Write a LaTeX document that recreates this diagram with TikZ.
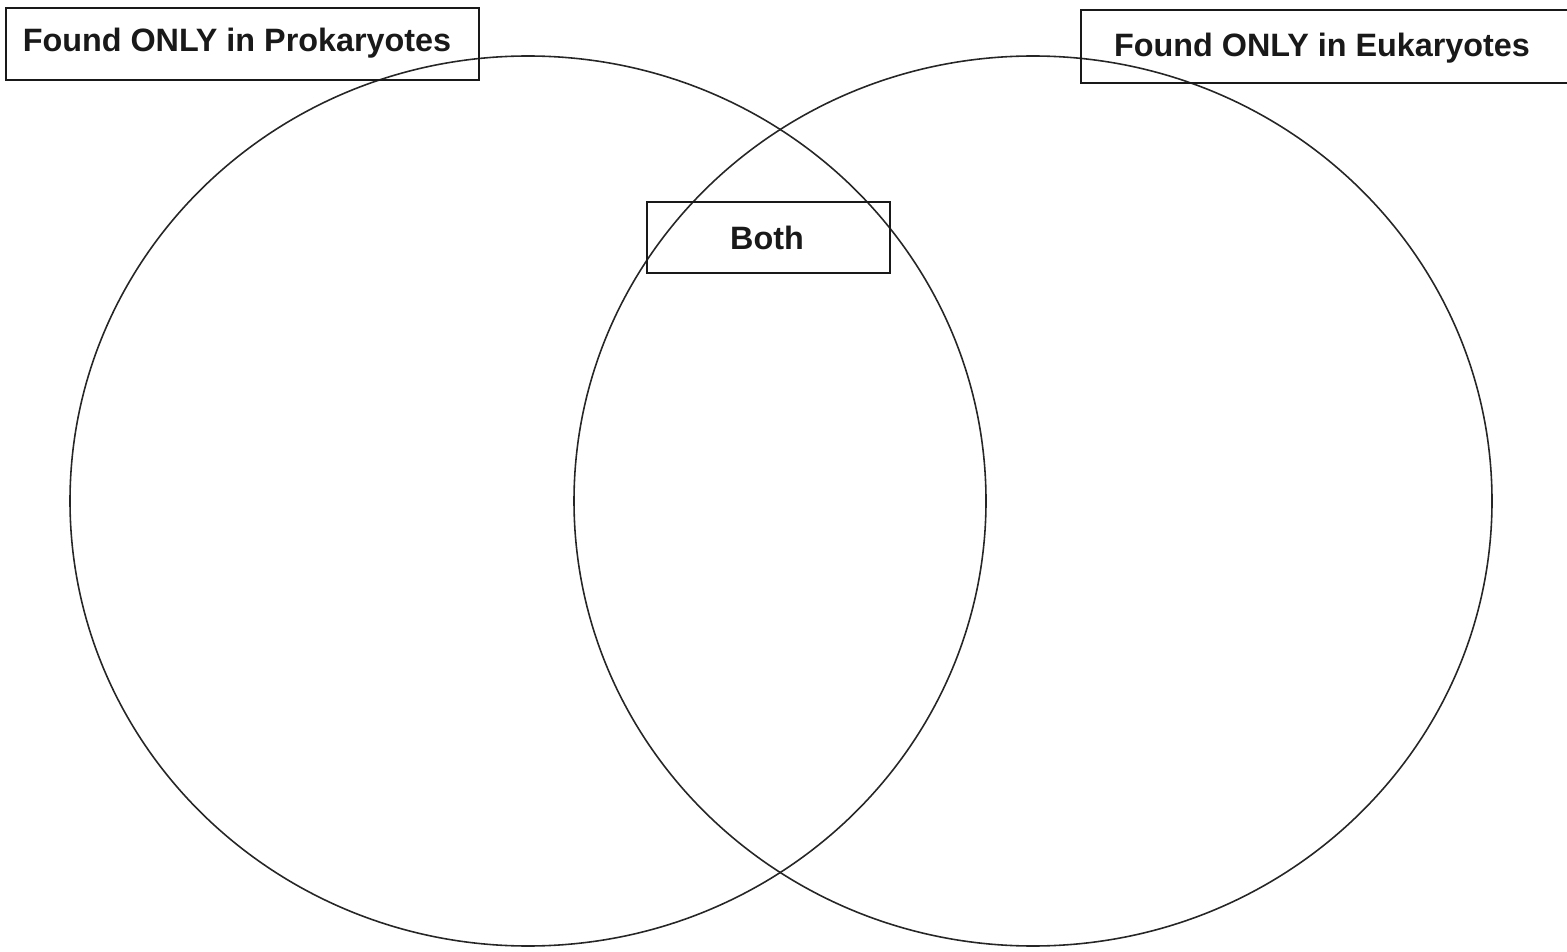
\documentclass[tikz,border=0pt]{standalone}
\usepackage{fontspec}
\setmainfont{Liberation Sans}
\begin{document}
\begin{tikzpicture}[x=0.01cm,y=-0.01cm,
  circ/.style={draw=black!85,line width=0.45pt},
  lbox/.style={draw=black!90,line width=0.75pt},
  lbl/.style={font=\bfseries\fontsize{9.2pt}{11pt}\selectfont,text=black!90}]
\useasboundingbox (0,0) rectangle (1567,952);
\draw[circ] (528,501) ellipse [x radius=458, y radius=445];
\draw[circ] (1033,501) ellipse [x radius=459, y radius=445];
\draw[lbox] (6,8) rectangle (479,80);
\draw[lbox] (1567,10) -- (1081,10) -- (1081,83) -- (1567,83);
\draw[lbox] (647,202) rectangle (890,273);
\node[lbl] (pro) at (237,43) {Found ONLY in Prokaryotes};
\node[lbl] (euk) at (1322,48) {Found ONLY in Eukaryotes};
\node[lbl] (both) at (767,238) {Both};
\end{tikzpicture}
\end{document}
